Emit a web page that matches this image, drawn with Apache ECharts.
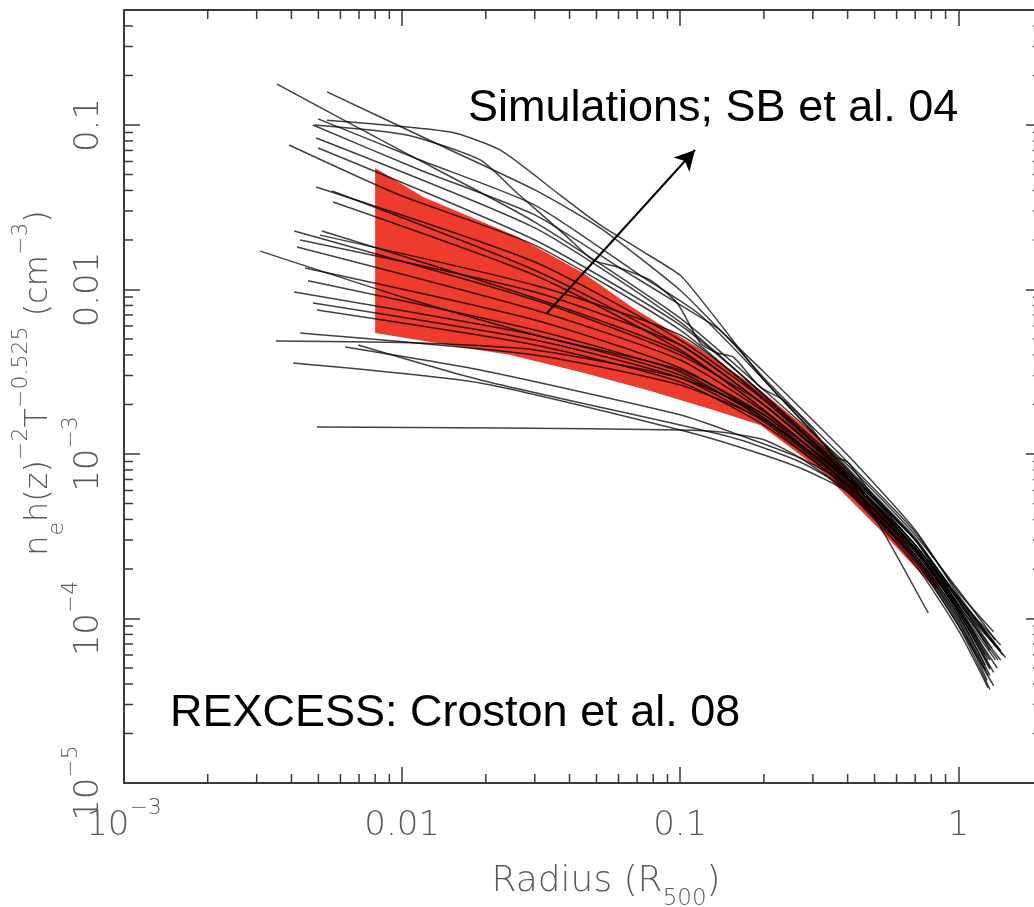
<!DOCTYPE html>
<html><head><meta charset="utf-8">
<script src="https://cdn.jsdelivr.net/npm/echarts@6/dist/echarts.min.js"></script>
<style>html,body{margin:0;padding:0;background:#fff}#c{width:1034px;height:907px}</style>
</head><body><div id="c"></div>
<script>
// ---------- axis ranges & ticks ----------
const xRange = [0.001, 2];
const yRange = [1e-5, 0.5];
const xTickValues = [0.001, 0.01, 0.1, 1];
const xTickLabels = ['10^−3', '0.01', '0.1', '1'];
const yTickValues = [1e-5, 1e-4, 1e-3, 0.01, 0.1];
const yTickLabels = ['10^−5', '10^−4', '10^−3', '0.01', '0.1'];
const xMinorTicks = [0.002,0.003,0.004,0.005,0.006,0.007,0.008,0.009,
                     0.02,0.03,0.04,0.05,0.06,0.07,0.08,0.09,
                     0.2,0.3,0.4,0.5,0.6,0.7,0.8,0.9];
const yMinorTicks = [2e-5,3e-5,4e-5,5e-5,6e-5,7e-5,8e-5,9e-5,
                     2e-4,3e-4,4e-4,5e-4,6e-4,7e-4,8e-4,9e-4,
                     0.002,0.003,0.004,0.005,0.006,0.007,0.008,0.009,
                     0.02,0.03,0.04,0.05,0.06,0.07,0.08,0.09,
                     0.2,0.3,0.4];
const xName = '{b|Radius (R}{sub|500}{b|)}';
const yName = '{b|n}{sub|e}{b|h(z)}{sup|−2}{b|T}{sup|−0.525}{b| (cm}{sup|−3}{b|)}';
const textSim = 'Simulations; SB et al. 04';
const textRex = 'REXCESS: Croston et al. 08';

// ---------- REXCESS envelope (red) ----------
const redUpper = [[0.008,0.0548],[0.0119,0.0365],[0.026,0.0209],[0.0448,0.0126],[0.0678,0.00772],[0.115,0.00447],[0.194,0.00245],[0.319,0.00122],[0.524,0.000457],[0.861,0.00016]];
const redLower = [[0.008,0.00544],[0.0245,0.004],[0.0437,0.00315],[0.076,0.00245],[0.1316,0.00185],[0.194,0.0015],[0.319,0.0008],[0.524,0.000345],[0.83,0.00015]];

// ---------- simulated profiles ----------
const sim01 = [[0.00355,0.177],[0.0098,0.0705],[0.03,0.0257],[0.1,0.0067],[0.2,0.00245],[0.4,0.000857],[0.7,0.000322],[1.0,0.000149],[1.36,7.4e-5]];
const sim02 = [[0.00537,0.159],[0.0149,0.0705],[0.03,0.0403],[0.0515,0.0237],[0.1,0.0099],[0.139,0.00567],[0.2,0.00315],[0.4,0.000986],[0.7,0.000345],[1.0,0.000139],[1.42,6.4e-5]];
const sim03 = [[0.00486,0.1],[0.0104,0.087],[0.0191,0.0613],[0.0259,0.0386],[0.0392,0.0209],[0.0486,0.0151],[0.0593,0.0137],[0.078,0.0114],[0.0975,0.00828],[0.118,0.00473],[0.136,0.00411],[0.155,0.00389],[0.194,0.00255],[0.235,0.00213],[0.294,0.00146],[0.355,0.000972],[0.4,0.000894],[0.482,0.000587],[0.7,0.0003],[1.0,0.000129],[1.45,6.0e-5]];
const sim04 = [[0.00478,0.1],[0.0116,0.0533],[0.03,0.0284],[0.0608,0.0135],[0.1,0.00805],[0.139,0.00567],[0.2,0.0029],[0.294,0.0015],[0.4,0.000894],[0.7,0.000336],[1.0,0.000145],[1.34,8.3e-5]];
const sim05 = [[0.00499,0.109],[0.0116,0.0613],[0.03,0.0326],[0.0718,0.0122],[0.118,0.007],[0.2,0.00282],[0.4,0.0008],[0.7,0.0003],[1.0,0.000121],[1.39,5.6e-5]];
const sim06 = [[0.00491,0.0834],[0.03,0.0237],[0.1,0.00634],[0.2,0.00228],[0.4,0.0008],[0.7,0.00028],[1.0,0.000129],[1.3,6.4e-5]];
const sim07 = [[0.00392,0.0756],[0.0098,0.0375],[0.03,0.0186],[0.1,0.00567],[0.2,0.00213],[0.4,0.000745],[0.7,0.000261],[1.0,0.000113],[1.25,6.0e-5]];
const sim08 = [[0.00499,0.0725],[0.03,0.02],[0.1,0.00608],[0.2,0.00228],[0.4,0.000715],[0.52,0.00037],[0.78,0.000108]];
const sim09 = [[0.00491,0.042],[0.03,0.0147],[0.1,0.00493],[0.2,0.00213],[0.4,0.000766],[0.7,0.00028],[1.0,0.000129],[1.32,6.6e-5]];
const sim10 = [[0.0056,0.0397],[0.03,0.0131],[0.1,0.0046],[0.2,0.00199],[0.4,0.000715],[0.7,0.000268],[1.0,0.000116],[1.28,5.6e-5]];
const sim11 = [[0.00565,0.034],[0.03,0.0122],[0.1,0.00429],[0.2,0.00185],[0.4,0.000695],[0.7,0.000261],[1.0,0.00011],[1.3,4.9e-5]];
const sim12 = [[0.00409,0.0227],[0.03,0.00863],[0.1,0.004],[0.2,0.00199],[0.4,0.000745],[0.7,0.0003],[1.0,0.000133],[1.36,6.9e-5]];
const sim13 = [[0.00515,0.0227],[0.03,0.00887],[0.1,0.00417],[0.2,0.00185],[0.4,0.000676],[0.7,0.000243],[1.0,0.000105],[1.25,5.2e-5]];
const sim14 = [[0.00419,0.0181],[0.03,0.0075],[0.1,0.00373],[0.2,0.0018],[0.4,0.000715],[0.7,0.00028],[1.0,0.000121],[1.42,5.6e-5]];
const sim15 = [[0.00309,0.0171],[0.0098,0.0091],[0.03,0.00529],[0.1,0.00324],[0.2,0.00173],[0.4,0.000648],[0.7,0.000243],[1.0,0.000105],[1.3,4.5e-5]];
const sim16 = [[0.00448,0.0135],[0.03,0.00653],[0.1,0.00333],[0.2,0.00166],[0.4,0.000648],[0.7,0.000254],[1.0,0.000113],[1.38,5.0e-5]];
const sim17 = [[0.00459,0.0113],[0.03,0.00567],[0.1,0.00315],[0.2,0.00161],[0.4,0.00063],[0.7,0.000233],[1.0,9.8e-5],[1.27,4.2e-5]];
const sim18 = [[0.00409,0.00966],[0.03,0.00529],[0.1,0.00302],[0.2,0.00166],[0.4,0.000666],[0.7,0.000261],[1.0,0.00011],[1.34,4.7e-5]];
const sim19 = [[0.00478,0.00828],[0.03,0.00493],[0.1,0.0029],[0.2,0.00157],[0.4,0.000604],[0.7,0.000221],[1.0,9.1e-5],[1.3,3.7e-5]];
const sim20 = [[0.00494,0.0075],[0.03,0.0046],[0.1,0.00274],[0.2,0.0015],[0.4,0.000621],[0.7,0.000233],[1.0,9.5e-5],[1.25,4.9e-5]];
const sim21 = [[0.0043,0.00544],[0.03,0.004],[0.1,0.00263],[0.2,0.00161],[0.4,0.000695],[0.7,0.000268],[1.0,0.000116],[1.36,5.6e-5]];
const sim22 = [[0.00352,0.00486],[0.0116,0.00473],[0.03,0.00429],[0.1,0.0029],[0.2,0.00173],[0.4,0.000715],[0.7,0.00028],[1.0,0.000124],[1.48,5.8e-5]];
const sim23 = [[0.00624,0.00447],[0.0191,0.00324],[0.1,0.00173],[0.164,0.0013],[0.27,0.000946],[0.4,0.000648],[0.7,0.000254],[1.0,0.00011],[1.3,5.0e-5]];
const sim24 = [[0.00695,0.0046],[0.0191,0.00282],[0.1,0.0015],[0.164,0.00122],[0.27,0.000894],[0.4,0.000604],[0.7,0.000227],[1.0,9.1e-5],[1.34,3.9e-5]];
const sim25 = [[0.00406,0.00357],[0.0191,0.0027],[0.1,0.0014],[0.164,0.0011],[0.27,0.000822],[0.4,0.000587],[0.7,0.000233],[1.0,0.000101],[1.28,4.5e-5]];
const sim26 = [[0.00494,0.00146],[0.0225,0.00144],[0.1,0.0014],[0.139,0.00136],[0.2,0.00122],[0.27,0.000946],[0.4,0.000587],[0.7,0.000211],[1.0,8.5e-5],[1.28,3.8e-5]];
const sim27 = [[0.00537,0.107],[0.0149,0.0907],[0.0225,0.0705],[0.037,0.0375],[0.0515,0.0247],[0.0718,0.0174],[0.1,0.0122],[0.118,0.0088],[0.139,0.0062],[0.2,0.00282],[0.4,0.000822],[0.7,0.000309],[1.0,0.000133],[1.42,6.9e-5]];
const sim28 = [[0.0043,0.02],[0.03,0.00966],[0.1,0.0046],[0.2,0.00199],[0.4,0.000735],[0.7,0.000268],[1.0,0.000119],[1.3,5.6e-5]];
const sim29 = [[0.00507,0.0214],[0.03,0.0106],[0.1,0.00529],[0.2,0.00219],[0.4,0.000777],[0.7,0.0003],[1.0,0.000135],[1.42,6.3e-5]];
const simCurves = [sim01,sim02,sim03,sim04,sim05,sim06,sim07,sim08,sim09,sim10,sim11,sim12,sim13,sim14,sim15,
                   sim16,sim17,sim18,sim19,sim20,sim21,sim22,sim23,sim24,sim25,sim26,sim27,sim28,sim29];

// ---------- annotation arrow (tail, head) ----------
const arrowPts = [[0.0332,0.0072],[0.113,0.0705]];

// ---------- rendering ----------
const AX = '#3a3a3a';
const LBL = '#5a5a5a';
const FONT_AX = '"DejaVu Sans", sans-serif';
const FONT_TXT = '"Liberation Sans", Arial, sans-serif';

function richify(s) {
  const i = s.indexOf('^');
  return i < 0 ? '{b|' + s + '}' : '{b|' + s.slice(0, i) + '}{s|' + s.slice(i + 1) + '}';
}
function makeFormatter(vals, labels) {
  return function (v) {
    for (let i = 0; i < vals.length; i++) {
      if (Math.abs(Math.log10(v) - Math.log10(vals[i])) < 1e-6) return richify(labels[i]);
    }
    return '';
  };
}
const tickRich = {
  b: { fontSize: 34, fontFamily: FONT_AX, color: LBL, fontWeight: 200, verticalAlign: 'bottom', lineHeight: 46 },
  s: { fontSize: 22, fontFamily: FONT_AX, color: LBL, fontWeight: 200, verticalAlign: 'top', lineHeight: 46 }
};
const nameRich = {
  b: { fontSize: 36, fontFamily: FONT_AX, color: LBL, fontWeight: 200, verticalAlign: 'middle', lineHeight: 58 },
  sup: { fontSize: 22, fontFamily: FONT_AX, color: LBL, fontWeight: 200, verticalAlign: 'top', lineHeight: 58 },
  sub: { fontSize: 23, fontFamily: FONT_AX, color: LBL, fontWeight: 200, verticalAlign: 'bottom', lineHeight: 58 }
};
const yNameRich = {
  b: { fontSize: 32, fontFamily: FONT_AX, color: LBL, fontWeight: 200, verticalAlign: 'middle', lineHeight: 58 },
  sup: { fontSize: 22, fontFamily: FONT_AX, color: LBL, fontWeight: 200, verticalAlign: 'top', lineHeight: 58 },
  sub: { fontSize: 22, fontFamily: FONT_AX, color: LBL, fontWeight: 200, verticalAlign: 'bottom', lineHeight: 58 }
};

function minorTicks(values, dir) {
  return {
    type: 'custom', coordinateSystem: 'cartesian2d', silent: true, clip: false, z: 6,
    data: values.map(v => dir === 'x' ? [v, yRange[0]] : [xRange[0], v]),
    renderItem: function (params, api) {
      const L = 9, st = { stroke: AX, lineWidth: 1.5 };
      if (dir === 'x') {
        const v = api.value(0);
        const a = api.coord([v, yRange[0]]), b = api.coord([v, yRange[1]]);
        return { type: 'group', children: [
          { type: 'line', shape: { x1: a[0], y1: a[1], x2: a[0], y2: a[1] - L }, style: st },
          { type: 'line', shape: { x1: b[0], y1: b[1], x2: b[0], y2: b[1] + L }, style: st }
        ]};
      } else {
        const v = api.value(1);
        const a = api.coord([xRange[0], v]), b = api.coord([xRange[1], v]);
        return { type: 'group', children: [
          { type: 'line', shape: { x1: a[0], y1: a[1], x2: a[0] + L, y2: a[1] }, style: st },
          { type: 'line', shape: { x1: b[0], y1: b[1], x2: b[0] - L, y2: b[1] }, style: st }
        ]};
      }
    }
  };
}

const series = [];
series.push({
  type: 'custom', coordinateSystem: 'cartesian2d', silent: true, z: 1,
  data: [redUpper[0]],
  renderItem: function (params, api) {
    const pts = redUpper.concat(redLower.slice().reverse()).map(p => api.coord(p));
    return { type: 'polygon', shape: { points: pts }, style: { fill: '#ED3B2C' } };
  }
});
simCurves.forEach(function (c) {
  series.push({
    type: 'line', data: c, showSymbol: false, symbol: 'none', smooth: 0.2, silent: true, z: 2,
    lineStyle: { color: 'rgba(0,0,0,0.75)', width: 1.5 }
  });
});
series.push({
  type: 'line', data: arrowPts, showSymbol: false, symbol: 'none', silent: true, z: 4,
  lineStyle: { width: 0, opacity: 0 },
  markLine: {
    silent: true, symbol: ['none', 'arrow'], symbolSize: [16, 20], animation: false,
    label: { show: false }, emphasis: { disabled: true },
    lineStyle: { color: '#000', width: 2, type: 'solid' },
    data: [[{ coord: arrowPts[0] }, { coord: arrowPts[1] }]]
  }
});
series.push(minorTicks(xMinorTicks, 'x'));
series.push(minorTicks(yMinorTicks, 'y'));

const axisCommon = {
  axisLine: { show: true, lineStyle: { color: AX, width: 2 } },
  axisTick: { show: true, inside: true, length: 16, lineStyle: { color: AX, width: 1.5 } },
  splitLine: { show: false }, minorTick: { show: false }
};

const option = {
  animation: false,
  backgroundColor: '#fff',
  grid: { left: 124, top: 10, right: -8, bottom: 124, containLabel: false, outerBoundsMode: 'none' },
  xAxis: [
    Object.assign({}, axisCommon, {
      type: 'log', min: xRange[0], max: xRange[1], position: 'bottom',
      axisLabel: { formatter: makeFormatter(xTickValues, xTickLabels), margin: 14, rich: tickRich, hideOverlap: false },
      name: xName, nameLocation: 'middle', nameGap: 70, nameMoveOverlap: false,
      nameTextStyle: { rich: nameRich, padding: [0, 0, 0, 46] }
    }),
    Object.assign({}, axisCommon, {
      type: 'log', min: xRange[0], max: xRange[1], position: 'top', axisLabel: { show: false }
    })
  ],
  yAxis: [
    Object.assign({}, axisCommon, {
      type: 'log', min: yRange[0], max: yRange[1], position: 'left',
      axisLabel: { formatter: makeFormatter(yTickValues, yTickLabels), rotate: 90, margin: 18, rich: tickRich, hideOverlap: false },
      name: yName, nameLocation: 'middle', nameGap: 56, nameRotate: 90, nameMoveOverlap: false,
      nameTextStyle: { rich: yNameRich, padding: [0, 0, 0, 27] }
    }),
    Object.assign({}, axisCommon, {
      type: 'log', min: yRange[0], max: yRange[1], position: 'right', axisLabel: { show: false }
    })
  ],
  graphic: [
    { type: 'text', left: 468, top: 86, silent: true, z: 10,
      style: { text: textSim, fontSize: 45, fontFamily: FONT_TXT, fill: '#000' } },
    { type: 'text', left: 170, top: 691, silent: true, z: 10,
      style: { text: textRex, fontSize: 45, fontFamily: FONT_TXT, fill: '#000' } }
  ],
  series: series
};

const chart = echarts.init(document.getElementById('c'), null, { renderer: 'canvas' });
chart.setOption(option);
</script>
</body></html>
